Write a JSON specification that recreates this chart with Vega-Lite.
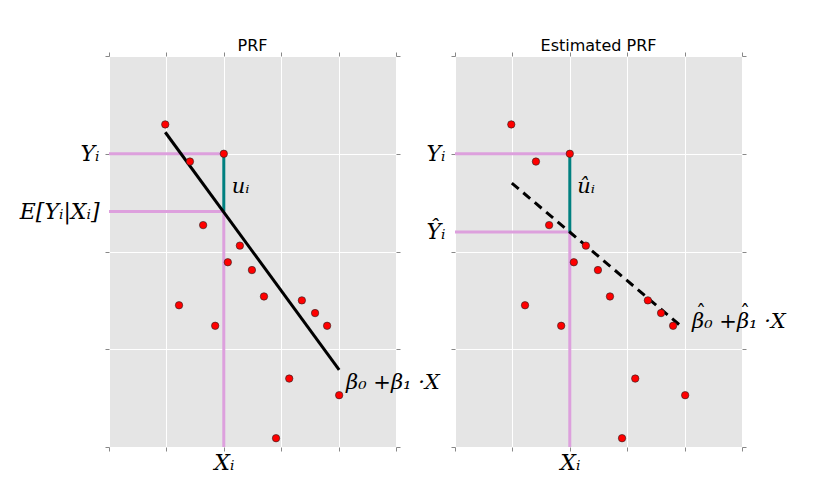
{
  "$schema": "https://vega.github.io/schema/vega-lite/v6.json",
  "background": "white",
  "padding": {"left": 19, "top": 37, "right": 5, "bottom": 5},
  "bounds": "flush",
  "spacing": 59,
  "config": {
    "view": {"fill": "#e5e5e5", "stroke": null},
    "title": {"font": "DejaVu Sans", "fontSize": 16, "fontWeight": "normal", "color": "black", "offset": -2},
    "axis": {"labelColor": "black", "labelFont": "DejaVu Serif", "labelFontStyle": "italic", "labelFontSize": 22, "tickColor": "#888", "tickSize": 4, "domain": false, "title": null, "gridColor": "white", "gridWidth": 1}
  },
  "datasets": {
    "pts": [
      {"x": 0.98, "y": 3.30}, {"x": 1.41, "y": 2.92}, {"x": 2.0, "y": 3.0}, {"x": 1.64, "y": 2.27},
      {"x": 2.28, "y": 2.06}, {"x": 2.07, "y": 1.89}, {"x": 2.49, "y": 1.81}, {"x": 2.70, "y": 1.54},
      {"x": 1.22, "y": 1.45}, {"x": 1.85, "y": 1.24}, {"x": 3.36, "y": 1.50}, {"x": 3.59, "y": 1.37},
      {"x": 3.80, "y": 1.24}, {"x": 3.14, "y": 0.70}, {"x": 4.01, "y": 0.53}, {"x": 2.91, "y": 0.09}
    ]
  },
  "hconcat": [
    {
      "title": "PRF",
      "width": 287,
      "height": 391,
      "resolve": {"axis": {"x": "independent", "y": "independent"}},
      "layer": [
        {
          "data": {"values": [
            {"x": 0, "y": 3, "x2": 2, "y2": 3},
            {"x": 0, "y": 2.41, "x2": 2, "y2": 2.41},
            {"x": 2, "y": 2.41, "x2": 2, "y2": 0}
          ]},
          "mark": {"type": "rule", "color": "#dda0dd", "strokeWidth": 3},
          "encoding": {
            "x": {"field": "x", "type": "quantitative", "scale": {"domain": [0, 5], "nice": false, "zero": false},
              "axis": {"orient": "bottom", "values": [0, 1, 2, 3, 4, 5], "grid": true, "labelExpr": "datum.value == 2 ? 'Xᵢ' : ''", "labelPadding": 1}},
            "y": {"field": "y", "type": "quantitative", "scale": {"domain": [0, 4], "nice": false, "zero": false},
              "axis": {"orient": "left", "values": [0, 1, 2, 2.41, 3, 4], "grid": true,
                "gridOpacity": {"condition": {"test": "datum.value == 2.41", "value": 0}, "value": 1},
                "tickOpacity": {"condition": {"test": "datum.value == 2.41", "value": 0}, "value": 1},
                "labelExpr": "datum.value == 3 ? 'Yᵢ' : datum.value == 2.41 ? 'E[Yᵢ|Xᵢ]' : ''", "labelPadding": 6}},
            "x2": {"field": "x2"},
            "y2": {"field": "y2"}
          }
        },
        {
          "data": {"values": [{"x": 2, "y": 3, "x2": 2, "y2": 2.41}]},
          "mark": {"type": "rule", "color": "#008080", "strokeWidth": 3},
          "encoding": {
            "x": {"field": "x", "type": "quantitative", "axis": null},
            "y": {"field": "y", "type": "quantitative", "axis": null},
            "x2": {"field": "x2"},
            "y2": {"field": "y2"}
          }
        },
        {
          "data": {"values": [{"x": 0.98, "y": 3.22}, {"x": 4.01, "y": 0.79}]},
          "mark": {"type": "line", "color": "black", "strokeWidth": 3},
          "encoding": {
            "x": {"field": "x", "type": "quantitative", "axis": {"orient": "top", "values": [0, 1, 2, 3, 4, 5], "labels": false, "grid": false}},
            "y": {"field": "y", "type": "quantitative", "axis": {"orient": "right", "values": [0, 1, 2, 3, 4], "labels": false, "grid": false}}
          }
        },
        {
          "data": {"name": "pts"},
          "mark": {"type": "point", "filled": true, "fill": "red", "stroke": "#222", "strokeWidth": 0.6, "size": 55, "opacity": 1},
          "encoding": {
            "x": {"field": "x", "type": "quantitative", "axis": null},
            "y": {"field": "y", "type": "quantitative", "axis": null}
          }
        },
        {
          "data": {"values": [
            {"x": 2.14, "y": 2.66, "t": "uᵢ"},
            {"x": 4.13, "y": 0.65, "t": "β₀ +β₁ ·X"}
          ]},
          "mark": {"type": "text", "align": "left", "baseline": "middle", "font": "DejaVu Serif", "fontStyle": "italic", "fontSize": 21, "color": "black"},
          "encoding": {
            "x": {"field": "x", "type": "quantitative", "axis": null},
            "y": {"field": "y", "type": "quantitative", "axis": null},
            "text": {"field": "t"}
          }
        }
      ]
    },
    {
      "title": "Estimated PRF",
      "width": 287,
      "height": 391,
      "resolve": {"axis": {"x": "independent", "y": "independent"}},
      "layer": [
        {
          "data": {"values": [
            {"x": 0, "y": 3, "x2": 2, "y2": 3},
            {"x": 0, "y": 2.2, "x2": 2, "y2": 2.2},
            {"x": 2, "y": 2.2, "x2": 2, "y2": 0}
          ]},
          "mark": {"type": "rule", "color": "#dda0dd", "strokeWidth": 3},
          "encoding": {
            "x": {"field": "x", "type": "quantitative", "scale": {"domain": [0, 5], "nice": false, "zero": false},
              "axis": {"orient": "bottom", "values": [0, 1, 2, 3, 4, 5], "grid": true, "labelExpr": "datum.value == 2 ? 'Xᵢ' : ''", "labelPadding": 1}},
            "y": {"field": "y", "type": "quantitative", "scale": {"domain": [0, 4], "nice": false, "zero": false},
              "axis": {"orient": "left", "values": [0, 1, 2, 2.2, 3, 4], "grid": true,
                "gridOpacity": {"condition": {"test": "datum.value == 2.2", "value": 0}, "value": 1},
                "tickOpacity": {"condition": {"test": "datum.value == 2.2", "value": 0}, "value": 1},
                "labelExpr": "datum.value == 3 ? 'Yᵢ' : datum.value == 2.2 ? 'Ŷᵢ' : ''", "labelPadding": 6}},
            "x2": {"field": "x2"},
            "y2": {"field": "y2"}
          }
        },
        {
          "data": {"values": [{"x": 2, "y": 3, "x2": 2, "y2": 2.2}]},
          "mark": {"type": "rule", "color": "#008080", "strokeWidth": 3},
          "encoding": {
            "x": {"field": "x", "type": "quantitative", "axis": null},
            "y": {"field": "y", "type": "quantitative", "axis": null},
            "x2": {"field": "x2"},
            "y2": {"field": "y2"}
          }
        },
        {
          "data": {"values": [{"x": 0.99, "y": 2.70}, {"x": 3.97, "y": 1.22}]},
          "mark": {"type": "line", "color": "black", "strokeWidth": 3, "strokeDash": [9, 6]},
          "encoding": {
            "x": {"field": "x", "type": "quantitative", "axis": {"orient": "top", "values": [0, 1, 2, 3, 4, 5], "labels": false, "grid": false}},
            "y": {"field": "y", "type": "quantitative", "axis": {"orient": "right", "values": [0, 1, 2, 3, 4], "labels": false, "grid": false}}
          }
        },
        {
          "data": {"name": "pts"},
          "mark": {"type": "point", "filled": true, "fill": "red", "stroke": "#222", "strokeWidth": 0.6, "size": 55, "opacity": 1},
          "encoding": {
            "x": {"field": "x", "type": "quantitative", "axis": null},
            "y": {"field": "y", "type": "quantitative", "axis": null}
          }
        },
        {
          "data": {"values": [
            {"x": 2.13, "y": 2.66, "t": "ûᵢ"},
            {"x": 4.13, "y": 1.28, "t": "β₀ +β₁ ·X"}
          ]},
          "mark": {"type": "text", "align": "left", "baseline": "middle", "font": "DejaVu Serif", "fontStyle": "italic", "fontSize": 21, "color": "black"},
          "encoding": {
            "x": {"field": "x", "type": "quantitative", "axis": null},
            "y": {"field": "y", "type": "quantitative", "axis": null},
            "text": {"field": "t"}
          }
        },
        {
          "data": {"values": [{"x": 4.13, "y": 1.28, "t": "ˆ"}]},
          "mark": {"type": "text", "align": "center", "baseline": "middle", "font": "DejaVu Serif", "fontSize": 20, "color": "black", "dx": 9, "dy": -8},
          "encoding": {
            "x": {"field": "x", "type": "quantitative", "axis": null},
            "y": {"field": "y", "type": "quantitative", "axis": null},
            "text": {"field": "t"}
          }
        },
        {
          "data": {"values": [{"x": 4.13, "y": 1.28, "t": "ˆ"}]},
          "mark": {"type": "text", "align": "center", "baseline": "middle", "font": "DejaVu Serif", "fontSize": 20, "color": "black", "dx": 53, "dy": -8},
          "encoding": {
            "x": {"field": "x", "type": "quantitative", "axis": null},
            "y": {"field": "y", "type": "quantitative", "axis": null},
            "text": {"field": "t"}
          }
        }
      ]
    }
  ]
}
